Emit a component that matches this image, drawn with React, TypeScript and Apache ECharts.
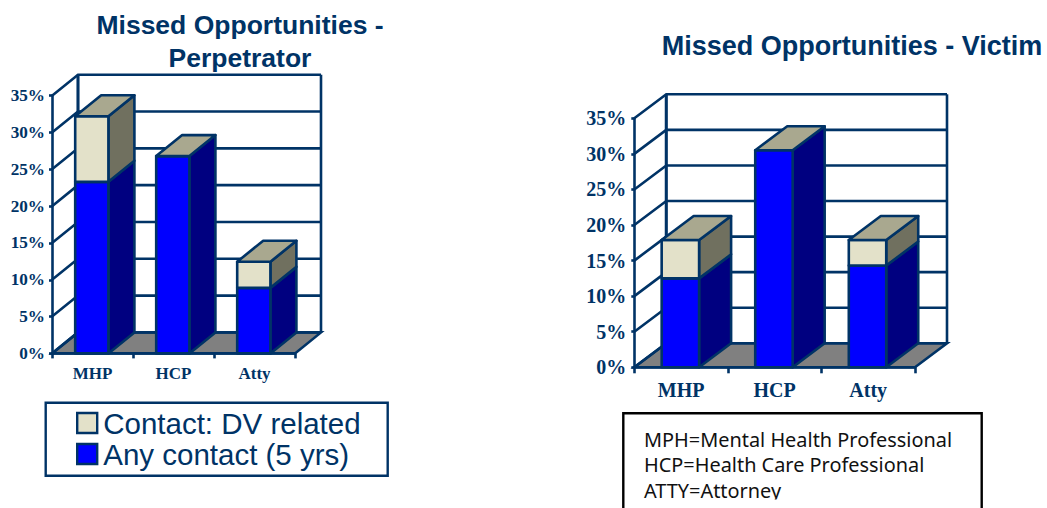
import React, { useEffect, useRef } from "react";
import * as echarts from "echarts";

const categories = ["MHP", "HCP", "Atty"];
const yTicks = [0, 5, 10, 15, 20, 25, 30, 35];
const perpAny = [23.3, 26.8, 8.9];
const perpDv = [8.9, 0, 3.55];
const victimAny = [12.5, 30.5, 14.3];
const victimDv = [5.4, 0, 3.6];
const LEG_DV = "Contact: DV related";
const LEG_ANY = "Any contact (5 yrs)";
const noteLines = ["MPH=Mental Health Professional", "HCP=Health Care Professional", "ATTY=Attorney"];

const NAVY = "#003366";
const BLUE = "#0000ff";
const BLUE_SIDE = "#000080";
const TAN = "#e3e1c9";
const TAN_SIDE = "#70705f";
const TAN_TOP = "#a9a88f";
const FLOOR = "#808080";
const LW = 2.6;

function wallSeries(gridIndex: number, dx: number, dy: number) {
  return {
    type: "custom",
    xAxisIndex: gridIndex,
    yAxisIndex: gridIndex,
    silent: true,
    z: 1,
    clip: false,
    data: yTicks.map((t) => [0, t]),
    renderItem: (params: any, api: any) => {
      const t = api.value(1);
      const y = api.coord([0, t])[1];
      const x0 = params.coordSys.x;
      const x1 = x0 + params.coordSys.width;
      const line = { stroke: NAVY, lineWidth: LW, fill: "none" };
      const children: any[] = [];
      if (t === 0) {
        children.push({
          type: "polygon",
          shape: { points: [[x0, y], [x1, y], [x1 + dx, y - dy], [x0 + dx, y - dy]] },
          style: { fill: FLOOR, stroke: NAVY, lineWidth: LW },
        });
      }
      if (t === yTicks[yTicks.length - 1]) {
        const y0 = api.coord([0, 0])[1];
        children.push({
          type: "line",
          shape: { x1: x0 + dx, y1: y - dy, x2: x0 + dx, y2: y0 - dy },
          style: { ...line, lineWidth: LW + 0.5 },
        });
        children.push({
          type: "line",
          shape: { x1: x1 + dx, y1: y - dy, x2: x1 + dx, y2: y0 - dy },
          style: line,
        });
      }
      children.push({
        type: "polyline",
        shape: { points: [[x0, y], [x0 + dx, y - dy], [x1 + dx, y - dy]] },
        style: line,
      });
      return { type: "group", children };
    },
  };
}

function barSeries(
  name: string,
  gridIndex: number,
  base: number[],
  vals: number[],
  front: string,
  side: string,
  capOn: (i: number) => boolean,
  dx: number,
  dy: number,
  ratio: number,
  z: number,
) {
  return {
    type: "custom",
    name,
    xAxisIndex: gridIndex,
    yAxisIndex: gridIndex,
    silent: true,
    z,
    clip: false,
    itemStyle: { color: front },
    data: vals.map((v, i) => [i, base[i], base[i] + v]),
    renderItem: (_p: any, api: any) => {
      const i = api.value(0);
      const lo = api.value(1);
      const hi = api.value(2);
      if (hi <= lo) return { type: "group", children: [] };
      const band = api.size([1, 0])[0];
      const w = band * ratio;
      const cx = api.coord([i, lo])[0] - 0.7;
      const yLo = api.coord([i, lo])[1];
      const yHi = api.coord([i, hi])[1];
      const xl = cx - w / 2;
      const xr = cx + w / 2;
      const st = { stroke: NAVY, lineWidth: LW, lineJoin: "round" };
      const children: any[] = [
        {
          type: "polygon",
          shape: { points: [[xr, yLo], [xr + dx, yLo - dy], [xr + dx, yHi - dy], [xr, yHi]] },
          style: { fill: side, ...st },
        },
        {
          type: "polygon",
          shape: { points: [[xl, yLo], [xr, yLo], [xr, yHi], [xl, yHi]] },
          style: { fill: front, ...st },
        },
      ];
      if (capOn(i)) {
        children.push({
          type: "polygon",
          shape: { points: [[xl, yHi], [xr, yHi], [xr + dx, yHi - dy], [xl + dx, yHi - dy]] },
          style: { fill: TAN_TOP, ...st },
        });
      }
      return { type: "group", children };
    },
  };
}

function stack(gridIndex: number, anyV: number[], dv: number[], dx: number, dy: number, ratio: number) {
  const zeros = anyV.map(() => 0);
  return [
    wallSeries(gridIndex, dx, dy),
    barSeries(LEG_ANY, gridIndex, zeros, anyV, BLUE, BLUE_SIDE, (i) => !(dv[i] > 0), dx, dy, ratio, 3),
    barSeries(LEG_DV, gridIndex, anyV, dv, TAN, TAN_SIDE, () => true, dx, dy, ratio, 4),
  ];
}

function xAxis(gridIndex: number, size: number, margin: number, tick: number) {
  return {
    type: "category",
    gridIndex,
    data: categories,
    boundaryGap: true,
    axisLine: { show: true, onZero: false, lineStyle: { color: NAVY, width: LW } },
    axisTick: { show: true, alignWithLabel: false, length: tick, lineStyle: { color: NAVY, width: LW } },
    axisLabel: { color: NAVY, fontFamily: "Liberation Serif", fontWeight: "bold", fontSize: size, margin },
    splitLine: { show: false },
  };
}

function yAxis(gridIndex: number, size: number, margin: number) {
  return {
    type: "value",
    gridIndex,
    min: 0,
    max: 35,
    interval: 5,
    axisLine: { show: true, lineStyle: { color: NAVY, width: LW } },
    axisTick: { show: true, length: 3, lineStyle: { color: NAVY, width: LW } },
    axisLabel: {
      color: NAVY,
      fontFamily: "Liberation Serif",
      fontWeight: "bold",
      fontSize: size,
      margin,
      formatter: "{value}%",
    },
    splitLine: { show: false },
  };
}

export default function App() {
  const ref = useRef<HTMLDivElement>(null);
  useEffect(() => {
    const chart = echarts.init(ref.current!, null, { renderer: "svg" });
    const titleStyle = {
      color: NAVY,
      fontFamily: "Liberation Sans",
      fontWeight: "bold",
    };
    chart.setOption({
      animation: false,
      backgroundColor: "#ffffff",
      title: [
        {
          text: "Missed Opportunities -\nPerpetrator",
          left: 240,
          top: 8,
          textAlign: "center",
          padding: 0,
          textStyle: { ...titleStyle, fontSize: 26.5, lineHeight: 33 },
        },
        {
          text: "Missed Opportunities - Victim",
          left: 852,
          top: 29,
          textAlign: "center",
          padding: 0,
          textStyle: { ...titleStyle, fontSize: 27, lineHeight: 33 },
        },
      ],
      grid: [
        { left: 52, top: 95.7, width: 243, height: 257.7 },
        { left: 634.3, top: 118.3, width: 280.7, height: 249 },
      ],
      xAxis: [xAxis(0, 17, 12, 5), xAxis(1, 20, 13, 6)],
      yAxis: [yAxis(0, 17.2, 7), yAxis(1, 20, 8)],
      legend: {
        show: true,
        orient: "vertical",
        left: 76,
        top: 408,
        padding: 0,
        itemGap: 1,
        itemWidth: 20,
        itemHeight: 20,
        selectedMode: false,
        textStyle: { color: NAVY, fontFamily: "Liberation Sans", fontSize: 29.5, lineHeight: 29, padding: [0, 0, 0, 1] },
        data: [
          { name: LEG_DV, icon: "rect", itemStyle: { color: TAN, borderColor: NAVY, borderWidth: 2.4 } },
          { name: LEG_ANY, icon: "rect", itemStyle: { color: BLUE, borderColor: NAVY, borderWidth: 2.4 } },
        ],
      },
      graphic: [
        {
          type: "rect",
          shape: { x: 45.7, y: 402.7, width: 342, height: 73 },
          style: { fill: "none", stroke: NAVY, lineWidth: 2.4 },
        },
        {
          type: "polyline",
          shape: { points: [[623.3, 509], [623.3, 413.3], [981.7, 413.3], [981.7, 509]] },
          style: { fill: "none", stroke: "#000000", lineWidth: 2.4 },
        },
        ...noteLines.map((t, i) => ({
          type: "text",
          x: 644,
          y: 439 + i * 25.5,
          style: {
            text: t,
            fill: "#111111",
            font: '19.9px "Noto Sans"',
            textVerticalAlign: "middle",
          },
        })),
        {
          type: "rect",
          z: 100,
          shape: { x: 630, y: 499.5, width: 340, height: 9 },
          style: { fill: "#ffffff" },
        },
      ],
      series: [...stack(0, perpAny, perpDv, 26, 21, 0.41), ...stack(1, victimAny, victimDv, 32, 24, 0.4)],
    });
    return () => chart.dispose();
  }, []);
  return <div ref={ref} style={{ position: "absolute", left: 0, top: 0, width: 1047, height: 508 }} />;
}
